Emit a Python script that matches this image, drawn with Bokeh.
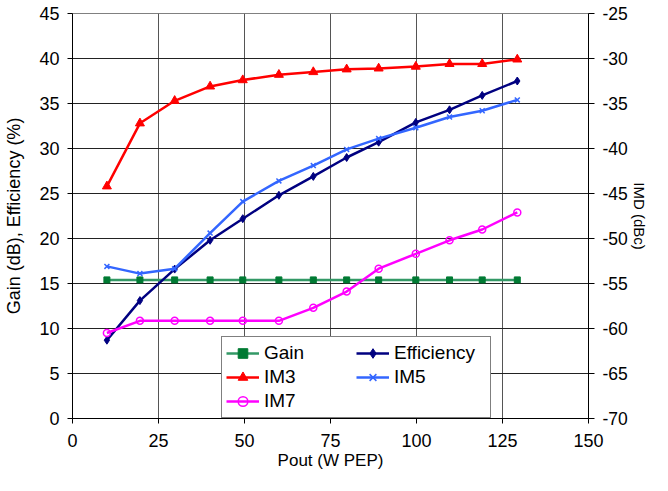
from bokeh.plotting import figure
from bokeh.models import Range1d, LinearAxis, Legend, LegendItem, FixedTicker
from bokeh.embed import file_html
from bokeh.resources import INLINE

# ---- data ----
pout = [10, 19.6, 29.7, 40, 49.5, 60, 70, 79.7, 89, 99.8, 109.6, 119.1, 129.3]
gain = [15.4, 15.4, 15.4, 15.4, 15.4, 15.4, 15.4, 15.4, 15.4, 15.4, 15.4, 15.4, 15.4]
efficiency = [8.7, 13.1, 16.6, 19.8, 22.2, 24.8, 26.9, 29.0, 30.7, 32.9, 34.3, 35.9, 37.5]
im3 = [-44.2, -37.2, -34.7, -33.1, -32.4, -31.8, -31.5, -31.2, -31.1, -30.9, -30.6, -30.6, -30.1]
im5 = [-53.1, -53.9, -53.35, -49.4, -45.9, -43.6, -41.9, -40.1, -38.9, -37.7, -36.5, -35.8, -34.6]
im7 = [-60.5, -59.15, -59.15, -59.15, -59.15, -59.15, -57.7, -55.9, -53.35, -51.7, -50.2, -49.0, -47.1]

x_ticks = [0, 25, 50, 75, 100, 125, 150]
left_ticks = [0, 5, 10, 15, 20, 25, 30, 35, 40, 45]
right_ticks = [-70, -65, -60, -55, -50, -45, -40, -35, -30, -25]
right_tick_labels = ["-70", "-65", "-60", "-55", "-50", "-45", "-40", "-35", "-30", "-25"]

FONT = "Liberation Sans"

p = figure(width=652, height=475, x_range=Range1d(0, 150), y_range=Range1d(0, 45),
           output_backend="svg", toolbar_location=None,
           min_border_left=72, min_border_right=64, min_border_top=13, min_border_bottom=57)
p.extra_y_ranges = {"imd": Range1d(-70, -25)}
p.background_fill_color = "white"
p.border_fill_color = "white"
p.outline_line_color = "#808080"
p.outline_line_width = 1

# grid
p.xgrid.ticker = FixedTicker(ticks=x_ticks)
p.ygrid.ticker = FixedTicker(ticks=left_ticks)
p.xgrid.grid_line_color = "#555555"
p.ygrid.grid_line_color = "#222222"
p.xgrid.grid_line_width = 1
p.ygrid.grid_line_width = 1

def style_axis(ax, tick_out, label_size, title_size):
    ax.axis_line_color = "black"
    ax.axis_line_width = 1
    ax.major_tick_line_color = "black"
    ax.major_tick_in = 0
    ax.major_tick_out = tick_out
    ax.minor_tick_line_color = None
    ax.major_label_text_font = FONT
    ax.major_label_text_font_size = label_size
    ax.major_label_text_color = "black"
    ax.axis_label_text_font = FONT
    ax.axis_label_text_font_size = title_size
    ax.axis_label_text_font_style = "normal"
    ax.axis_label_text_color = "black"

xa = p.xaxis[0]
xa.ticker = FixedTicker(ticks=x_ticks)
xa.axis_label = "Pout (W PEP)"
style_axis(xa, 5, "18px", "17px")
xa.major_label_standoff = 10
xa.axis_label_standoff = 1

ya = p.yaxis[0]
ya.ticker = FixedTicker(ticks=left_ticks)
ya.axis_label = "Gain (dB), Efficiency (%)"
style_axis(ya, 5, "18px", "18px")
ya.major_label_standoff = 8
ya.axis_label_standoff = 12

ra = LinearAxis(y_range_name="imd", ticker=FixedTicker(ticks=right_ticks), axis_label="IMD (dBc)")
ra.major_label_overrides = dict(zip(right_ticks, right_tick_labels))
style_axis(ra, 6, "17.5px", "15px")
ra.major_label_standoff = 8
ra.axis_label_standoff = 0
p.add_layout(ra, "right")

# series
g_l = p.line(pout, gain, line_color="#339966", line_width=2.5)
g_m = p.scatter(pout, gain, marker="square", size=6, fill_color="#007a33", line_color="#007a33")

e_l = p.line(pout, efficiency, line_color="#000080", line_width=2.5)
e_m = p.scatter(pout, efficiency, marker="diamond", size=8, fill_color="#000080", line_color="#000080")

i3_l = p.line(pout, im3, line_color="#ff0000", line_width=2.5, y_range_name="imd")
i3_m = p.scatter(pout, im3, marker="triangle", size=9, fill_color="#ff0000", line_color="#ff0000", y_range_name="imd")

i5_l = p.line(pout, im5, line_color="#3366ff", line_width=2.5, y_range_name="imd")
i5_m = p.scatter(pout, im5, marker="x", size=7, line_color="#3366ff", line_width=1.5, y_range_name="imd")

i7_l = p.line(pout, im7, line_color="#ff00ff", line_width=2.5, y_range_name="imd")
i7_m = p.scatter(pout, im7, marker="circle", size=7, fill_alpha=0.0,
                 line_color="#ff00ff", line_width=1.5, y_range_name="imd")

legend = Legend(items=[
    LegendItem(label="Gain", renderers=[g_l, g_m]),
    LegendItem(label="IM3", renderers=[i3_l, i3_m]),
    LegendItem(label="IM7", renderers=[i7_l, i7_m]),
    LegendItem(label="Efficiency", renderers=[e_l, e_m]),
    LegendItem(label="IM5", renderers=[i5_l, i5_m]),
], location=(149, 0), nrows=3)
legend.border_line_color = "black"
legend.border_line_width = 1
legend.background_fill_color = "white"
legend.background_fill_alpha = 1.0
legend.label_text_font = FONT
legend.label_text_font_size = "19px"
legend.label_text_color = "black"
legend.glyph_width = 33
legend.glyph_height = 24
legend.label_height = 24
legend.label_width = 92
legend.label_standoff = 5
legend.spacing = 0
legend.padding = 4
legend.margin = 0
p.add_layout(legend)

open("out.html", "w").write(file_html(p, INLINE))
